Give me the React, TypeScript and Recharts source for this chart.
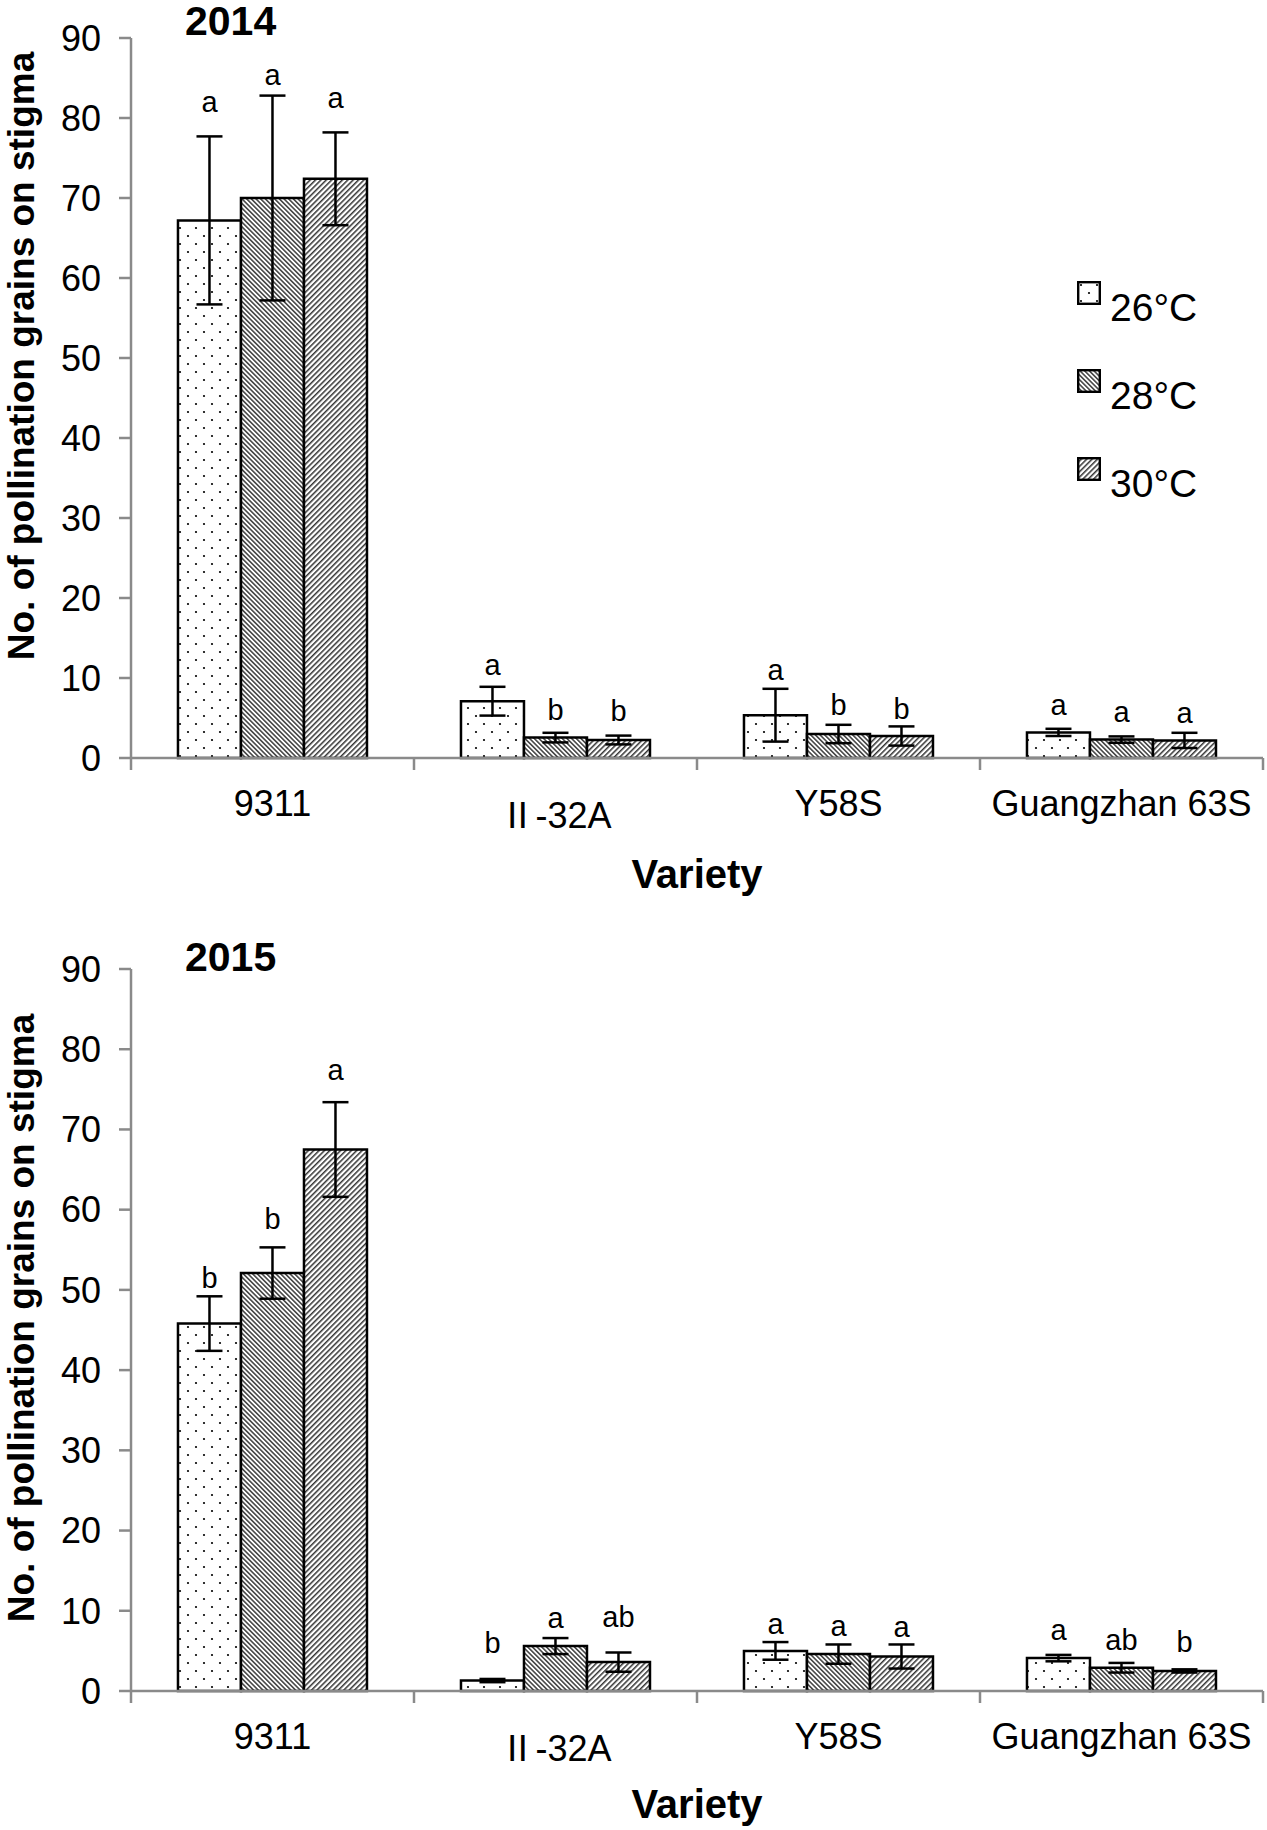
import React from "react";
import { BarChart, Bar, XAxis, YAxis, ErrorBar, LabelList } from "recharts";

// rice varieties on the x axis
const varieties = ["9311", "Ⅱ-32A", "Y58S", "Guangzhan 63S"];
const temps = ["26°C", "28°C", "30°C"];
const yTicks = [0, 10, 20, 30, 40, 50, 60, 70, 80, 90];

// 2014 means / errors / letters (and where the letter sits, in data units)
const mean26_2014 = [67.2, 7.1, 5.35, 3.2];
const mean28_2014 = [70.0, 2.55, 3.0, 2.3];
const mean30_2014 = [72.4, 2.25, 2.75, 2.2];
const err26_2014 = [10.5, 1.8, 3.3, 0.45];
const err28_2014 = [12.8, 0.6, 1.15, 0.4];
const err30_2014 = [5.8, 0.55, 1.2, 0.95];
const sig26_2014 = ["a", "a", "a", "a"];
const sig28_2014 = ["a", "b", "b", "a"];
const sig30_2014 = ["a", "b", "b", "a"];
const sigY26_2014 = [80.7, 10.4, 9.7, 5.4];
const sigY28_2014 = [84.1, 4.8, 5.35, 4.5];
const sigY30_2014 = [81.3, 4.6, 4.9, 4.4];

// 2015
const mean26_2015 = [45.8, 1.3, 5.0, 4.1];
const mean28_2015 = [52.1, 5.6, 4.6, 2.9];
const mean30_2015 = [67.5, 3.6, 4.3, 2.5];
const err26_2015 = [3.4, 0.2, 1.1, 0.4];
const err28_2015 = [3.2, 1.0, 1.2, 0.6];
const err30_2015 = [5.9, 1.2, 1.5, 0.2];
const sig26_2015 = ["b", "b", "a", "a"];
const sig28_2015 = ["b", "a", "a", "ab"];
const sig30_2015 = ["a", "ab", "a", "b"];
const sigY26_2015 = [50.2, 4.7, 7.1, 6.4];
const sigY28_2015 = [57.6, 7.8, 6.85, 5.1];
const sigY30_2015 = [76.2, 8.0, 6.7, 4.9];

const FONT = '"Liberation Sans", Arial, sans-serif';
const CJK_FONT = '"Liberation Sans", "Noto Sans CJK SC", Arial, sans-serif';
const GREY = "#8a8a8a";
const patternIds = ["dots26", "back28", "fwd30"];

const buildRows = (means, errs, sigs, sigYs) =>
  varieties.map((name, i) => {
    const row = { name };
    means.forEach((m, k) => {
      row[`v${k}`] = m[i];
      row[`e${k}`] = errs[k][i];
      row[`l${k}`] = sigs[k][i];
      row[`p${k}`] = sigYs[k][i];
    });
    return row;
  });

const rows2014 = buildRows(
  [mean26_2014, mean28_2014, mean30_2014],
  [err26_2014, err28_2014, err30_2014],
  [sig26_2014, sig28_2014, sig30_2014],
  [sigY26_2014, sigY28_2014, sigY30_2014]
);
const rows2015 = buildRows(
  [mean26_2015, mean28_2015, mean30_2015],
  [err26_2015, err28_2015, err30_2015],
  [sig26_2015, sig28_2015, sig30_2015],
  [sigY26_2015, sigY28_2015, sigY30_2015]
);

function Patterns() {
  return (
    <svg width={0} height={0} style={{ position: "absolute" }}>
      <defs>
        <pattern id="dots26" width={16} height={16} patternUnits="userSpaceOnUse">
          <rect width={16} height={16} fill="#fff" />
          <circle cx={4} cy={4} r={1.1} fill="#000" />
          <circle cx={12} cy={12} r={1.1} fill="#000" />
        </pattern>
        <pattern id="back28" width={3.3} height={10} patternUnits="userSpaceOnUse" patternTransform="rotate(-45)">
          <rect width={3.3} height={10} fill="#fff" />
          <line x1={0.8} y1={0} x2={0.8} y2={10} stroke="#000" strokeWidth={1.15} />
        </pattern>
        <pattern id="fwd30" width={3.8} height={10} patternUnits="userSpaceOnUse" patternTransform="rotate(45)">
          <rect width={3.8} height={10} fill="#fff" />
          <line x1={0.8} y1={0} x2={0.8} y2={10} stroke="#000" strokeWidth={1.2} />
        </pattern>
      </defs>
    </svg>
  );
}

function VarietyTick(props) {
  const { x, y, payload, index } = props;
  const half = payload && payload.offset ? payload.offset : 141.5;
  const low = String(payload.value).startsWith("Ⅱ");
  return (
    <g>
      <line x1={x - half} x2={x - half} y1={y} y2={y + 12} stroke={GREY} strokeWidth={2.5} />
      {index === varieties.length - 1 && (
        <line x1={x + half} x2={x + half} y1={y} y2={y + 12} stroke={GREY} strokeWidth={2.5} />
      )}
      <text
        x={x}
        y={y + (low ? 70 : 58)}
        textAnchor="middle"
        fontSize={36}
        fontFamily={low ? CJK_FONT : FONT}
        fill="#000"
      >
        {payload.value}
      </text>
    </g>
  );
}

const letterContent = (rows, k) => (props) => {
  const vb = props.viewBox && props.viewBox.width != null ? props.viewBox : props;
  const row = rows[props.index];
  if (!row) return null;
  const top = Math.min(vb.y, vb.y + vb.height);
  const h = Math.abs(vb.height);
  const unit = h / row[`v${k}`];
  const base = top + h;
  return (
    <text
      x={vb.x + vb.width / 2}
      y={base - row[`p${k}`] * unit}
      textAnchor="middle"
      fontSize={29}
      fontFamily={FONT}
      fill="#000"
    >
      {row[`l${k}`]}
    </text>
  );
};

function LegendBox() {
  return (
    <div style={{ position: "absolute", left: 1077, top: 281, width: 190, fontFamily: FONT }}>
      {temps.map((t, k) => (
        <div key={t} style={{ position: "relative", height: 88 }}>
          <svg width={24} height={24} style={{ position: "absolute", left: 0, top: 0 }}>
            <rect x={1.2} y={1.2} width={21.6} height={21.6} fill={`url(#${patternIds[k]})`} stroke="#000" strokeWidth={2.4} />
          </svg>
          <span style={{ position: "absolute", left: 33, top: 7, fontSize: 39, lineHeight: "39px", color: "#000", whiteSpace: "nowrap" }}>
            {t}
          </span>
        </div>
      ))}
    </div>
  );
}

function Panel({ rows, year, marginTop, xAxisHeight, yTitleShift, xTitleDy, titleTop, legend }) {
  return (
    <div style={{ position: "relative", width: 1267, height: 915 }}>
      <BarChart
        width={1267}
        height={915}
        data={rows}
        margin={{ top: marginTop, right: 4, bottom: 0, left: 0 }}
        barCategoryGap="16.6%"
        barGap={0}
      >
        <XAxis
          dataKey="name"
          height={xAxisHeight}
          interval={0}
          axisLine={{ stroke: GREY, strokeWidth: 2.5 }}
          tickLine={false}
          tickSize={0}
          tickMargin={0}
          tick={(p) => <VarietyTick {...p} />}
          label={{
            content: ({ viewBox }) => (
              <text
                x={viewBox.x + viewBox.width / 2}
                y={viewBox.y + xTitleDy}
                textAnchor="middle"
                fontSize={40}
                fontWeight="bold"
                fontFamily={FONT}
                fill="#000"
              >
                Variety
              </text>
            ),
          }}
        />
        <YAxis
          width={131}
          domain={[0, 90]}
          ticks={yTicks}
          interval={0}
          axisLine={{ stroke: GREY, strokeWidth: 2.5 }}
          tickLine={{ stroke: GREY, strokeWidth: 2.5 }}
          tickSize={12}
          tickMargin={18}
          tick={{ fill: "#000", fontSize: 36, fontFamily: FONT }}
          label={{
            content: ({ viewBox }) => {
              const cy = viewBox.y + viewBox.height / 2 + yTitleShift;
              return (
                <text
                  x={34}
                  y={cy}
                  transform={`rotate(-90, 34, ${cy})`}
                  textAnchor="middle"
                  fontSize={37}
                  fontWeight="bold"
                  fontFamily={FONT}
                  fill="#000"
                >
                  No. of pollination grains on stigma
                </text>
              );
            },
          }}
        />
        {temps.map((t, k) => (
          <Bar
            key={t}
            dataKey={`v${k}`}
            name={t}
            fill={`url(#${patternIds[k]})`}
            stroke="#000"
            strokeWidth={2.5}
            isAnimationActive={false}
          >
            <ErrorBar dataKey={`e${k}`} width={13} stroke="#000" strokeWidth={2.5} />
            <LabelList dataKey={`l${k}`} content={letterContent(rows, k)} />
          </Bar>
        ))}
      </BarChart>
      {legend && <LegendBox />}
      <div
        style={{
          position: "absolute",
          left: 185,
          top: titleTop,
          fontFamily: FONT,
          fontWeight: "bold",
          fontSize: 41,
          lineHeight: "41px",
          color: "#000",
        }}
      >
        {year}
      </div>
    </div>
  );
}

export default function App() {
  return (
    <div style={{ position: "relative", width: 1267, height: 1830, background: "#fff" }}>
      <style>{"body{margin:0;background:#fff}"}</style>
      <Patterns />
      <Panel rows={rows2014} year="2014" marginTop={38} xAxisHeight={157} yTitleShift={-42} xTitleDy={130} titleTop={1} legend />
      <Panel rows={rows2015} year="2015" marginTop={54} xAxisHeight={139} yTitleShift={-12} xTitleDy={127} titleTop={22} />
    </div>
  );
}
